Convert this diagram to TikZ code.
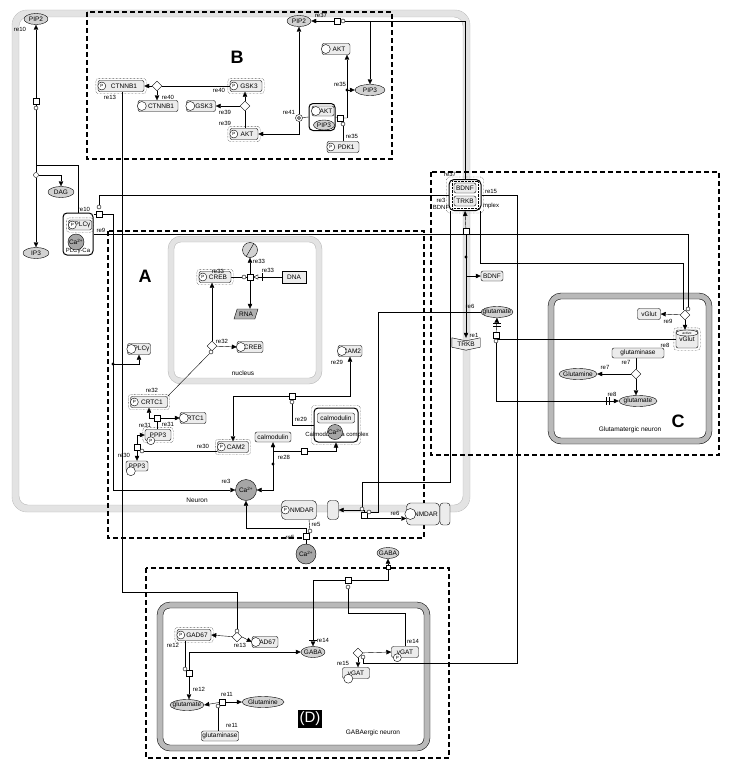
\documentclass[tikz,border=0pt]{standalone}
\usepackage{fontspec}
\setmainfont{Liberation Sans}
\usetikzlibrary{arrows.meta,shapes.geometric,fit}
\pgfdeclarelayer{back}
\pgfdeclarelayer{bg}
\pgfsetlayers{back,bg,main}
\newcommand{\spf}{\fontsize{6.5}{7}\selectfont}
\newcommand{\lbf}{\fontsize{6}{6.5}\selectfont}
\newcommand{\zw}[1]{\makebox[0pt]{#1}}
\newcommand{\pmark}[1]{\node[pbadge] at ([xshift=4]#1.west) {P};}
\newcommand{\rmark}[1]{\node[resid] at ([xshift=4]#1.west) {};}
\newcommand{\actf}[1]{\node[draw, densely dotted, rounded corners=3pt, inner sep=2pt, fit=(#1)] {};}
\tikzset{
  spec/.style={draw, rounded corners=2pt, fill=gray!15, font=\spf, inner sep=1pt, minimum height=11pt},
  simple/.style={draw, ellipse, fill=gray!35, font=\spf, inner sep=0pt, minimum height=11pt},
  ion/.style={draw, circle, fill=gray!70, font=\spf, inner sep=0pt, minimum size=20pt},
  proc/.style={draw, fill=white, inner sep=0pt, minimum size=6pt},
  dia/.style={draw, diamond, fill=white, inner sep=0pt, minimum size=10pt},
  modc/.style={draw, circle, fill=white, inner sep=0pt, minimum size=4pt},
  pbadge/.style={draw, circle, fill=white, inner sep=0pt, minimum size=8pt, font=\fontsize{4.5}{4.5}\selectfont},
  resid/.style={draw, circle, fill=white, inner sep=0pt, minimum size=9pt},
  lbl/.style={font=\lbf, inner sep=0.5pt},
  cplx/.style={draw, line width=1pt, rounded corners=4pt},
  arr/.style={-{Triangle[length=5pt,width=4.5pt]}},
  region/.style={line width=1.1pt, dash pattern=on 5pt off 3pt},
  biglet/.style={font=\fontsize{18}{18}\selectfont\bfseries},
}
\begin{document}
\begin{tikzpicture}[x=1pt,y=1pt,yscale=-1]
  \useasboundingbox (0,0) rectangle (730,768);

  % compartments
  \begin{pgfonlayer}{back}
    \draw[gray!22, line width=7pt, rounded corners=12pt] (15.5,13.5) rectangle (466.5,508.5);
    \draw[gray!55, rounded corners=15pt] (12,10) rectangle (470,512);
    \draw[gray!55, rounded corners=9pt] (19,17) rectangle (463,505);
    \draw[gray!22, line width=6pt, rounded corners=10pt] (171,239) rectangle (319,381);
    \draw[gray!55, rounded corners=13pt] (168,236) rectangle (322,384);
    \draw[gray!55, rounded corners=7pt] (174,242) rectangle (316,378);
    \draw[gray!55, line width=6pt, rounded corners=10pt] (551,296) rectangle (709,441);
    \draw[rounded corners=13pt] (548,293) rectangle (712,444);
    \draw[rounded corners=7pt] (554,299) rectangle (706,438);
    \draw[gray!55, line width=6pt, rounded corners=10pt] (160,605) rectangle (427,748);
    \draw[rounded corners=13pt] (157,602) rectangle (430,751);
    \draw[rounded corners=7pt] (163,608) rectangle (424,745);
    \draw[region] (87,12) rectangle (392,159);
    \draw[region] (108,231) rectangle (424,538);
    \draw[region] (431,172) rectangle (719,455);
    \draw[region] (146,568) rectangle (449,758);
  \end{pgfonlayer}

  % compartment names
  \node[biglet] at (237,57) {B};
  \node[biglet] at (145,276) {A};
  \node[biglet] at (678,421) {C};
  \node[fill=black, text=white, font=\fontsize{15}{15}\selectfont, inner sep=2pt] (dlbl) at (310,719) {(D)};
  \node[font=\spf] at (197,500) {Neuron};
  \node[font=\spf] at (243,373) {nucleus};
  \node[font=\spf] at (630,430) {Glutamatergic neuron};
  \node[font=\spf] at (373,733) {GABAergic neuron};

  % PIP2 / PLCg
  \node[simple, minimum width=24pt] (pip2a) at (36,19) {\zw{PIP2}};
  \node[proc] (pr10a) at (36,101) {};
  \node[modc] (c10a) at (36,108) {};
  \node[modc, minimum size=5pt] (as10) at (36,175) {};
  \node[simple, minimum width=26pt] (dag) at (61,192) {\zw{DAG}};
  \node[simple, minimum width=26pt] (ip3) at (36,253) {\zw{IP3}};
  \node[cplx, minimum width=30pt, minimum height=42pt] (plcx) at (78,234) {};
  \node[lbl] at (78,251) {PLCγ-Ca};
  \node[spec, minimum width=23pt, minimum height=10pt] (plcgp) at (80,225) {\hspace*{5pt}PLCγ};
  \pmark{plcgp}
  \actf{plcgp}
  \node[ion, minimum size=16pt] (caplc) at (76,242) {\zw{Ca\textsuperscript{2+}}};
  \node[proc] (pr10b) at (99,214) {};
  \node[modc] (c10b) at (99,207) {};

  % region B
  \node[spec, minimum width=46pt] (ctnp) at (121,86) {\hspace*{6pt}CTNNB1};
  \pmark{ctnp}
  \actf{ctnp}
  \node[dia] (d40) at (157,86) {};
  \node[spec, minimum width=40pt] (ctn) at (158,106) {\hspace*{6pt}CTNNB1};
  \rmark{ctn}
  \node[spec, minimum width=29pt] (gsk) at (201,106) {\hspace*{6pt}GSK3};
  \rmark{gsk}
  \node[spec, minimum width=32pt] (gskp) at (246,86) {\hspace*{6pt}GSK3};
  \pmark{gskp}
  \actf{gskp}
  \node[dia] (d39) at (245,106) {};
  \node[spec, minimum width=28pt] (aktp) at (244,134) {\hspace*{6pt}AKT};
  \pmark{aktp}
  \actf{aktp}
  \node[simple, minimum width=24pt] (pip2b) at (299,21) {\zw{PIP2}};
  \node[modc, minimum size=7pt] (dis41) at (299,118) {};
  \node[draw, circle, inner sep=0pt, minimum size=3pt] at (dis41) {};
  \node[cplx, minimum width=26pt, minimum height=27pt] (aktx) at (322,117) {};
  \node[spec, minimum width=22pt, minimum height=10pt] (aktin) at (323,111) {\hspace*{6pt}AKT};
  \rmark{aktin}
  \node[simple, minimum width=21pt, minimum height=10pt] (pip3in) at (324,125) {\zw{PIP3}};
  \node[proc] (pr35) at (340,118) {};
  \node[modc] (c35) at (343,124) {};
  \node[spec, minimum width=28pt] (akt) at (336,49) {\hspace*{6pt}AKT};
  \rmark{akt}
  \node[simple, minimum width=30pt] (pip3) at (370,90) {\zw{PIP3}};
  \node[spec, minimum width=32pt] (pdk1p) at (343,147) {\hspace*{6pt}PDK1};
  \pmark{pdk1p}
  \node[proc] (pr37) at (337,21) {};
  \node[modc] (c37) at (343,21) {};

  % BDNF:TRKB
  \node[lbl] at (441,207) {BDNF};
  \node[lbl] at (491,206) {mplex};
  \node[cplx, fill=white, minimum width=32pt, minimum height=31pt, rounded corners=5pt] (bdx) at (465,195) {};
  \actf{bdx}
  \node[spec, minimum width=22pt, minimum height=10pt] (bdin) at (465,188) {BDNF};
  \node[spec, minimum width=22pt, minimum height=10pt] (trin) at (465,201) {TRKB};
  \node[draw, densely dotted, inner sep=1.5pt, fit=(bdin)(trin)] {};
  \node[proc] (pr1) at (466,231) {};
  \coordinate (dt1) at (466,257);
  \node[spec, minimum width=22pt, minimum height=10pt] (bdnf) at (492,276) {BDNF};
  \node[minimum width=28pt, minimum height=12pt, inner sep=0pt, font=\spf] (trkb) at (466,344) {TRKB};
  \node[simple, minimum width=32pt] (glu1) at (497,312) {\zw{glutamate}};
  \node[proc] (pr8) at (496,335) {};
  \node[modc] (c8) at (496,341) {};

  % region C
  \node[spec, minimum width=23pt] (vglut) at (649,314) {vGlut};
  \node[dia] (d9) at (685,315) {};
  \node[modc] (c9) at (688,309) {};
  \node[draw, fill=gray!15, rounded corners=2pt, minimum width=22pt, minimum height=18pt, inner sep=0pt, font=\spf] (vga) at (687,339) {\raisebox{-3pt}{vGlut}};
  \node[draw, ellipse, fill=gray!8, minimum width=22pt, minimum height=6pt, inner sep=0pt, anchor=north, font=\fontsize{3.5}{4}\selectfont] at (vga.north) {active};
  \actf{vga}
  \node[spec, minimum width=52pt, minimum height=10pt] (gls1) at (638,353) {glutaminase};
  \node[dia] (d7) at (636,374) {};
  \node[simple, minimum width=38pt] (gln1) at (578,374) {\zw{Glutamine}};
  \node[simple, minimum width=38pt] (glu2) at (638,401) {\zw{glutamate}};

  % region A
  \node[spec, minimum width=32pt] (crebp) at (215,277) {\hspace*{6pt}CREB};
  \pmark{crebp}
  \actf{crebp}
  \node[draw, circle, fill=gray!35, minimum size=15pt, inner sep=0pt] (degr) at (250,250) {};
  \draw (degr.60) -- (degr.240);
  \node[proc] (pr33) at (250,277) {};
  \node[modc] (c33) at (244,277) {};
  \node[draw, fill=gray!15, minimum width=24pt, minimum height=12pt, inner sep=1pt, font=\spf] (dna) at (294,277) {DNA};
  \node[trapezium, trapezium left angle=60, trapezium right angle=120, trapezium stretches body, draw, fill=gray!60, minimum width=24pt, minimum height=10pt, inner sep=0.5pt, font=\spf] (rna) at (246,314) {RNA};
  \node[dia] (d32) at (212,346) {};
  \node[modc] (c32) at (211,352) {};
  \node[spec, minimum width=26pt] (creb) at (250,347) {\hspace*{6pt}CREB};
  \rmark{creb}
  \node[spec, minimum width=37pt] (crtc1p) at (149,402) {\hspace*{6pt}CRTC1};
  \pmark{crtc1p}
  \actf{crtc1p}
  \node[proc] (pr31) at (157,418) {};
  \node[spec, minimum width=26pt] (crtc1) at (193,418) {CRTC1};
  \rmark{crtc1}
  \node[spec, minimum width=26pt] (ppp3p) at (158,435) {PPP3};
  \actf{ppp3p}
  \node[pbadge] at ([xshift=6]ppp3p.south west) {P};
  \node[proc] (pr30) at (137,447) {};
  \node[modc] (c30) at (142,451) {};
  \node[spec, minimum width=22pt, minimum height=10pt] (ppp3) at (137,466) {PPP3};
  \node[resid] at ([xshift=5]ppp3.south west) {};
  \node[spec, minimum width=31pt] (cam2p) at (233,447) {\hspace*{6pt}CAM2};
  \pmark{cam2p}
  \actf{cam2p}
  \node[proc] (pr29) at (292,396) {};
  \node[modc] (c29) at (292,402) {};
  \node[spec, minimum width=22pt] (cam2) at (350,351) {\hspace*{4pt}CAM2};
  \rmark{cam2}
  \node[cplx, minimum width=44pt, minimum height=34pt] (calx) at (336,425) {};
  \actf{calx}
  \node[lbl] at (337,435) {Calmodulin:Ca complex};
  \node[spec, minimum width=37pt, minimum height=10pt] (calin) at (336,418) {calmodulin};
  \node[ion, minimum size=15pt] (cain) at (335,432) {\zw{Ca\textsuperscript{2+}}};
  \node[spec, minimum width=36pt, minimum height=10pt] (calm) at (273,437) {calmodulin};
  \node[proc] (pr28) at (304,451) {};
  \coordinate (dt28) at (273,464);
  \node[ion, minimum size=21pt] (ca1) at (246,490) {\zw{Ca\textsuperscript{2+}}};
  \node[spec, minimum width=23pt] (plcg) at (139,349) {\hspace*{5pt}PLCγ};
  \rmark{plcg}
  \node[spec, minimum width=35pt, minimum height=19pt, rounded corners=4pt] (nmdarp) at (299,510) {\hspace*{6pt}NMDAR};
  \pmark{nmdarp}
  \node[spec, minimum width=11pt, minimum height=19pt, rounded corners=3pt] (nmbox) at (333,510) {};
  \node[proc] (pr6) at (364,515) {};
  \node[modc] (c6b) at (362,509) {};
  \node[modc] (c6a) at (369,512) {};
  \node[spec, minimum width=33pt, minimum height=22pt, rounded corners=4pt] (nmdar) at (423,514) {\hspace*{6pt}NMDAR};
  \node[resid, minimum size=11pt] at ([xshift=4]nmdar.west) {};
  \node[spec, minimum width=10pt, minimum height=22pt, rounded corners=3pt] (nmbox2) at (445,514) {};
  \node[proc] (pr5) at (306,536) {};
  \node[modc] (c5) at (310,531) {};
  \node[ion, minimum size=20pt] (ca2) at (306,554) {\zw{Ca\textsuperscript{2+}}};

  % region D
  \node[simple, minimum width=22pt] (gaba1) at (388,553) {\zw{GABA}};
  \node[proc, minimum size=4pt] (gb1) at (388,567) {};
  \node[proc] (pr14) at (348,580) {};
  \node[modc] (c14) at (348,587) {};
  \node[simple, minimum width=24pt] (gaba2) at (313,652) {\zw{GABA}};
  \node[spec, minimum width=27pt] (vgatp) at (405,652) {vGAT};
  \node[pbadge] at ([xshift=6]vgatp.south west) {P};
  \node[dia] (d15) at (358,653) {};
  \node[modc] (c15) at (363,657) {};
  \node[spec, minimum width=27pt] (vgat) at (356,673) {vGAT};
  \node[resid] at ([xshift=6]vgat.south west) {};
  \node[spec, minimum width=34pt] (gad67p) at (194,635) {\hspace*{6pt}GAD67};
  \pmark{gad67p}
  \actf{gad67p}
  \node[dia] (d13) at (237,637) {};
  \node[modc] (c13) at (237,631) {};
  \node[spec, minimum width=26pt] (gad67) at (265,642) {GAD67};
  \rmark{gad67}
  \node[proc] (pr12) at (189,673) {};
  \node[modc] (c12) at (185,669) {};
  \node[simple, minimum width=34pt] (glu3) at (187,705) {\zw{glutamate}};
  \node[proc] (pr11) at (222,702) {};
  \node[modc] (c11) at (218,706) {};
  \node[simple, minimum width=42pt] (gln2) at (263,702) {\zw{Glutamine}};
  \node[spec, minimum width=36pt, minimum height=10pt] (gls2) at (220,736) {glutaminase};

  % reaction labels
  \foreach \p/\t in {{(20,29)}/re10, {(84,209)}/re10, {(101,230)}/re9,
      {(110,97)}/re13, {(168,97)}/re40, {(219,90)}/re40, {(225,112)}/re39, {(225,123)}/re39,
      {(289,112)}/re41, {(340,84)}/re35, {(352,136)}/re35, {(321,15)}/re37,
      {(450,174)}/re37, {(491,191)}/re15, {(441,200)}/re3, {(470,306)}/re6, {(474,335)}/re1,
      {(668,321)}/re9, {(665,345)}/re8, {(626,362)}/re7, {(605,367)}/re7, {(612,394)}/re8,
      {(218,271)}/re33, {(268,270)}/re33, {(259,261)}/re33, {(222,341)}/re32, {(152,390)}/re32,
      {(145,425)}/re31, {(168,424)}/re31, {(124,455)}/re30, {(203,446)}/re30,
      {(337,362)}/re29, {(301,419)}/re29, {(284,457)}/re28, {(226,481)}/re3,
      {(316,524)}/re5, {(290,537)}/re5, {(395,513)}/re6,
      {(323,640)}/re14, {(413,641)}/re14, {(343,663)}/re15, {(240,645)}/re13,
      {(173,645)}/re12, {(199,689)}/re12, {(227,694)}/re11, {(232,725)}/re11}
    \node[lbl] at \p {\t};

  \begin{pgfonlayer}{bg}
    % PIP2 -> DAG + IP3
    \coordinate (k10) at (36,165);
    \draw[arr] (pr10a) -- (pip2a);
    \draw (pr10a) -- (as10);
    \draw[arr] (as10) -- (ip3);
    \draw[arr] (as10) -| (dag);
    \draw (plcx.north) |- (k10);
    % re10 / re9
    \coordinate (j9) at (113,234);
    \coordinate (d9c) at (113,364);
    \draw (plcx.east |- pr10b) -- (pr10b);
    \draw (pr10b) -| (j9);
    \draw[arr] (j9) |- (ca1.west);
    \fill (d9c) circle (1.6);
    \draw[arr] (d9c) -| (plcg.south);
    \draw (c10b) |- (bdx.west);
    \draw (plcx.east) -| (c9);
    \coordinate (k9) at (683,263);
    \draw ([xshift=-1]bdx.south east) |- (k9) -- (k9 |- d9.north);
    \draw[arr] (d9) -- (vglut.east);
    \draw[arr] (d9.south) -- (d9.south |- vga.north);
    % re8 / re7
    \draw[arr] (pr8) -- (glu1.south);
    \draw[arr] (pr8) |- (glu2.west);
    \draw (vga.west) -| (c8);
    \draw (gls1.south -| d7) -- (d7);
    \draw[arr] (d7) -- (gln1.east);
    \draw[arr] (d7.south) -- (d7.south |- glu2.north);
    \draw (493,323) -- (501,323);
    \draw (493,326) -- (501,326);
    \draw (606,397) -- (606,405);
    \draw (609,397) -- (609,405);
    % region B
    \draw (gskp.west) -- (d40);
    \draw[arr] (d40) -- (ctnp.east);
    \draw[arr] (d40) -- (d40 |- ctn.north);
    \draw (aktp.north -| d39) -- (d39);
    \draw[arr] (d39) -- (d39 |- gskp.south);
    \draw[arr] (d39) -- (gsk.east);
    \draw (aktx.west) -- (dis41);
    \draw[arr] (dis41) -- (pip2b.south);
    \draw[arr] (dis41) |- (aktp.east);
    \coordinate (k35) at (347,118);
    \coordinate (d35) at (347,90);
    \draw (aktx.east) -- (pr35) -- (k35);
    \draw[arr] (k35) -- (k35 |- akt.south);
    \fill (d35) circle (1.6);
    \draw[arr] (d35) -- (pip3.west);
    \draw (pdk1p.north -| c35) -- (c35);
    \draw[arr] (pr37) -- (pip2b.east);
    \draw[arr] (c37) -| (pip3.north);
    \draw (c37) -| (bdx.north);
    % BDNF:TRKB
    \draw[arr] (pr1) -- (bdx.south);
    \draw[arr] (pr1) -- (trkb.north);
    \fill (dt1) circle (1.6);
    \draw[arr] (pr1 |- bdnf.west) -- (bdnf.west);
    \coordinate (k15) at (517,663);
    \draw (bdx.east) -| (k15) -- (k15 -| c15) -- (c15);
    \coordinate (k6) at (362,482);
    \draw ([xshift=2]bdx.south west) |- (k6) -- (c6b);
    \coordinate (k6a) at (378,512);
    \draw (glu1.west) -| (k6a) -- (c6a);
    \draw[arr] (pr6) |- (nmbox.east);
    \draw[arr] (pr6) |- (nmdar.195);
    % re5
    \coordinate (k5) at (306,528);
    \draw ([xshift=10]nmdarp.south) -- (c5);
    \draw (ca2) -- (pr5);
    \draw[arr] (pr5) -- (k5) -| (ca1.south);
    % re28 / re29 / re30
    \draw[arr] (dt28) -- (calm.south);
    \fill (dt28) circle (1.6);
    \draw[arr] (dt28) |- (ca1.east);
    \draw (calm.south |- pr28) -- (pr28);
    \draw[arr] (pr28) -| (calx.south);
    \draw[arr] (pr29) -| (cam2p.north);
    \draw[arr] (pr29) -| (cam2.south);
    \draw (c29) |- (calx.west);
    \draw[arr] (pr30) |- (ppp3p.west);
    \draw[arr] (pr30) -- (ppp3.north);
    \draw (c30) -- (c30 -| cam2p.west);
    % re31 / re32 / re33
    \draw[arr] (pr31) -| (crtc1p.south);
    \draw[arr] (pr31) -- (crtc1.west);
    \draw (ppp3p.north -| pr31) -- (pr31);
    \draw (crtc1p.north east) -- (c32);
    \draw[arr] (d32) -- (d32 |- crebp.south);
    \draw[arr] (d32) -- (creb.west);
    \draw (crebp.east) -- (c33) -- (pr33);
    \draw[arr] (pr33) -- (degr);
    \draw[arr] (pr33) -- (pr33 |- rna.north);
    \draw[-{Triangle[open,length=5pt,width=5pt]}] (dna.west) -- (pr33.east);
    \draw (262,273) -- (262,281);
    % CTNNB1 -> re13
    \coordinate (k13) at (237,592);
    \draw ([xshift=1]ctnp.south) |- (k13) -- (c13);
    % region D
    \draw[arr] (pr14) -| (gaba2.north);
    \draw (pr14) -| (gb1);
    \draw[arr] (gb1) -- (gaba1.south);
    \draw (309,640) -- (317,640);
    \coordinate (k14) at (405,613);
    \draw (c14) |- (k14) -- (vgatp.north);
    \draw[arr] (d15) -- (vgatp.west);
    \draw[arr] (d15) -- (d15 |- vgat.north);
    \draw[arr] (d13) -- (gad67p.east);
    \draw[arr] (d13.east) -- (gad67.west);
    \draw ([xshift=-9]gad67p.south) -- (c12);
    \draw[arr] (pr12) |- (gaba2.west);
    \draw[arr] (pr12) -- (pr12 |- glu3.north);
    \draw[arr] (pr11) -- (glu3.east);
    \draw[arr] (pr11) -- (gln2.west);
    \draw (gls2.north -| c11) -- (c11);
    % TRKB receptor shape
    \draw[fill=gray!15] (trkb.north west) -- ([yshift=3]trkb.north) -- (trkb.north east)
      -- ([yshift=-3]trkb.south east) -- (trkb.south) -- ([yshift=-3]trkb.south west) -- cycle;
  \end{pgfonlayer}
\end{tikzpicture}
\end{document}
